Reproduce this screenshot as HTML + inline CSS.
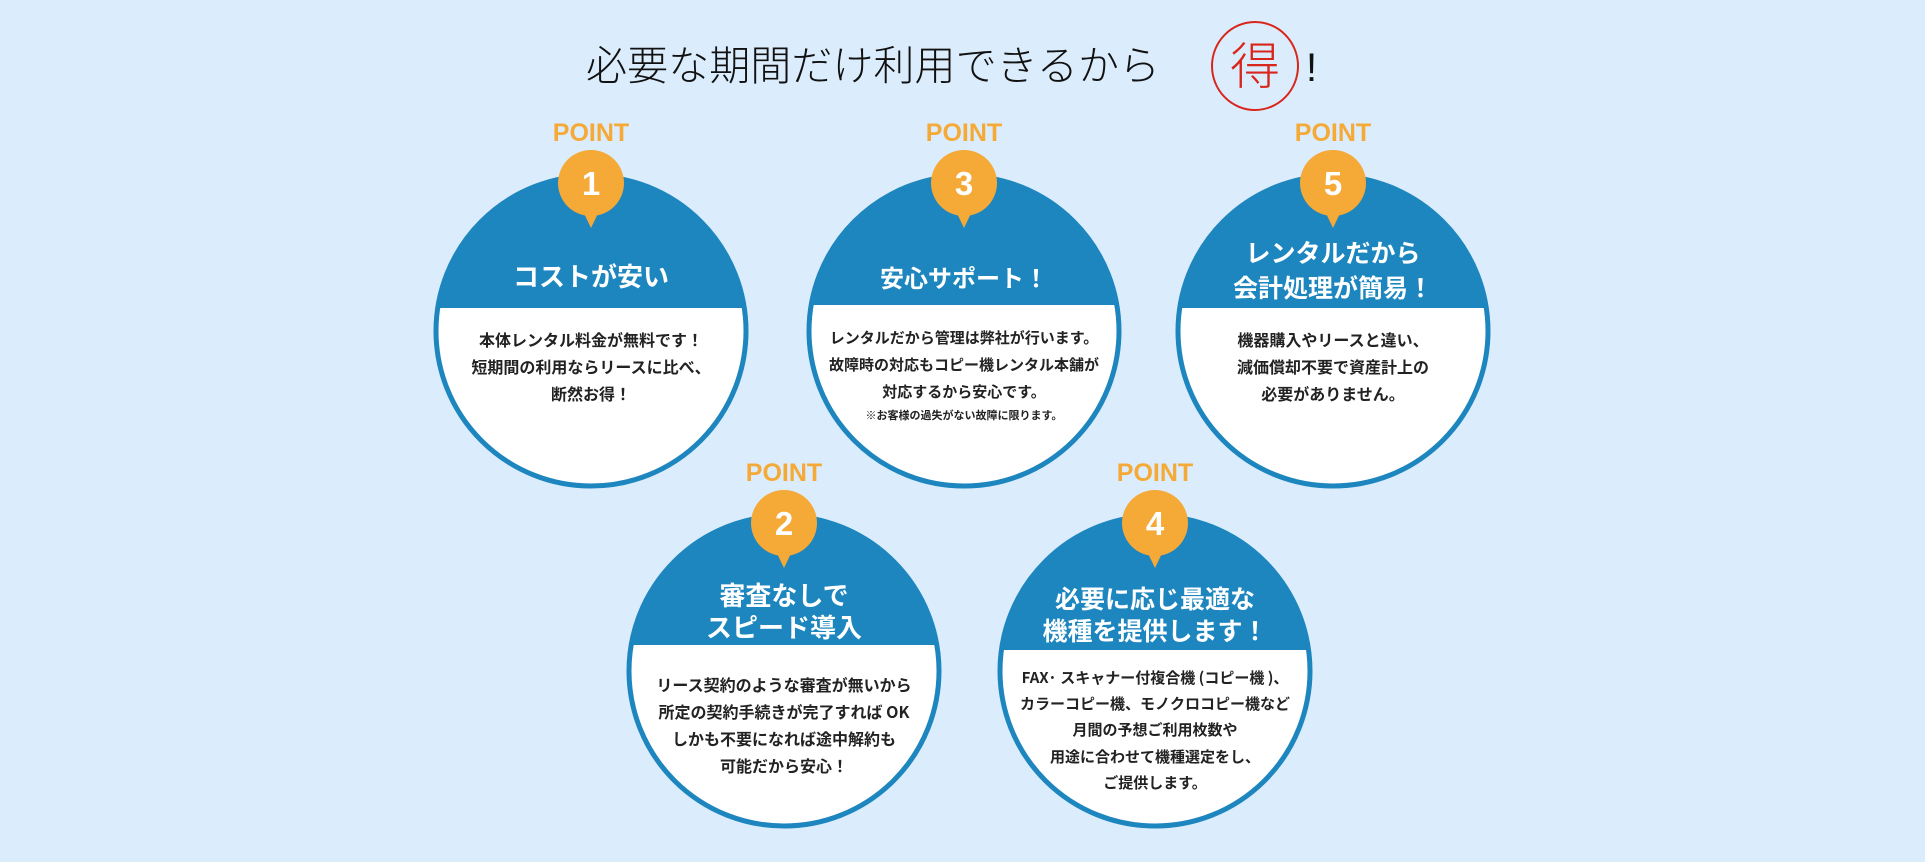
<!DOCTYPE html>
<html><head><meta charset="utf-8"><style>
html,body{margin:0;padding:0;background:#dbedfc;}
svg{display:block}
.t{font-family:"Liberation Sans","Noto Sans CJK JP",sans-serif;}
</style></head><body>
<svg width="1925" height="862" viewBox="0 0 1925 862" xmlns="http://www.w3.org/2000/svg" class="t">
<rect width="1925" height="862" fill="#dbedfc"/>
<text x="586" y="80" font-size="41" fill="#111" font-family="Noto Sans CJK JP, sans-serif" font-weight="300" textLength="574">必要な期間だけ利用できるから</text>
<ellipse cx="1255" cy="66" rx="43" ry="44" fill="none" stroke="#d9261c" stroke-width="2"/>
<text x="1255" y="84" font-size="50" fill="#d9261c" text-anchor="middle" font-family="Noto Sans CJK JP, sans-serif" font-weight="300">得</text>
<text x="1306" y="81" font-size="40" fill="#111" font-family="Liberation Sans, sans-serif">!</text>
<defs>
<clipPath id="c1"><circle cx="591" cy="331" r="155"/></clipPath>
<clipPath id="c3"><circle cx="964" cy="331" r="155"/></clipPath>
<clipPath id="c5"><circle cx="1333" cy="331" r="155"/></clipPath>
<clipPath id="c2"><circle cx="784" cy="671" r="155"/></clipPath>
<clipPath id="c4"><circle cx="1155" cy="671" r="155"/></clipPath>
</defs>
<g font-family="Noto Sans CJK JP, sans-serif">
<!-- circle 1 -->
<circle cx="591" cy="331" r="155" fill="#fff"/>
<rect x="430" y="170" width="330" height="138" fill="#1e86bf" clip-path="url(#c1)"/>
<circle cx="591" cy="331" r="155" fill="none" stroke="#1e86bf" stroke-width="5"/>
<text x="591" y="141" font-size="25" font-weight="bold" fill="#f5a937" text-anchor="middle" font-family="Liberation Sans">POINT</text>
<polygon points="580,205 602,205 591,228" fill="#f5a937"/>
<circle cx="591" cy="183" r="33" fill="#f5a937"/>
<text x="591" y="195" font-size="33" font-weight="bold" fill="#fff" text-anchor="middle" font-family="Liberation Sans">1</text>
<text x="591" y="286" font-size="26" font-weight="bold" fill="#fff" text-anchor="middle">コストが安い</text>
<g font-size="16" font-weight="bold" fill="#222" text-anchor="middle">
<text x="591" y="346">本体レンタル料金が無料です！</text>
<text x="591" y="373">短期間の利用ならリースに比べ、</text>
<text x="591" y="400">断然お得！</text>
</g>
<!-- circle 3 -->
<circle cx="964" cy="331" r="155" fill="#fff"/>
<rect x="800" y="170" width="330" height="135" fill="#1e86bf" clip-path="url(#c3)"/>
<circle cx="964" cy="331" r="155" fill="none" stroke="#1e86bf" stroke-width="5"/>
<text x="964" y="141" font-size="25" font-weight="bold" fill="#f5a937" text-anchor="middle" font-family="Liberation Sans">POINT</text>
<polygon points="953,205 975,205 964,228" fill="#f5a937"/>
<circle cx="964" cy="183" r="33" fill="#f5a937"/>
<text x="964" y="195" font-size="33" font-weight="bold" fill="#fff" text-anchor="middle" font-family="Liberation Sans">3</text>
<text x="964" y="287" font-size="24" font-weight="bold" fill="#fff" text-anchor="middle">安心サポート！</text>
<g font-size="15" font-weight="bold" fill="#222" text-anchor="middle">
<text x="964" y="343">レンタルだから管理は弊社が行います。</text>
<text x="964" y="370">故障時の対応もコピー機レンタル本舗が</text>
<text x="964" y="397">対応するから安心です。</text>
<text x="964" y="419" font-size="11">※お客様の過失がない故障に限ります。</text>
</g>
<!-- circle 5 -->
<circle cx="1333" cy="331" r="155" fill="#fff"/>
<rect x="1170" y="170" width="330" height="138" fill="#1e86bf" clip-path="url(#c5)"/>
<circle cx="1333" cy="331" r="155" fill="none" stroke="#1e86bf" stroke-width="5"/>
<text x="1333" y="141" font-size="25" font-weight="bold" fill="#f5a937" text-anchor="middle" font-family="Liberation Sans">POINT</text>
<polygon points="1322,205 1344,205 1333,228" fill="#f5a937"/>
<circle cx="1333" cy="183" r="33" fill="#f5a937"/>
<text x="1333" y="195" font-size="33" font-weight="bold" fill="#fff" text-anchor="middle" font-family="Liberation Sans">5</text>
<text x="1333" y="262" font-size="25" font-weight="bold" fill="#fff" text-anchor="middle">レンタルだから</text>
<text x="1333" y="297" font-size="25" font-weight="bold" fill="#fff" text-anchor="middle">会計処理が簡易！</text>
<g font-size="16" font-weight="bold" fill="#222" text-anchor="middle">
<text x="1333" y="346">機器購入やリースと違い、</text>
<text x="1333" y="373">減価償却不要で資産計上の</text>
<text x="1333" y="400">必要がありません。</text>
</g>
<!-- circle 2 -->
<circle cx="784" cy="671" r="155" fill="#fff"/>
<rect x="620" y="510" width="330" height="135" fill="#1e86bf" clip-path="url(#c2)"/>
<circle cx="784" cy="671" r="155" fill="none" stroke="#1e86bf" stroke-width="5"/>
<text x="784" y="481" font-size="25" font-weight="bold" fill="#f5a937" text-anchor="middle" font-family="Liberation Sans">POINT</text>
<polygon points="773,545 795,545 784,568" fill="#f5a937"/>
<circle cx="784" cy="523" r="33" fill="#f5a937"/>
<text x="784" y="535" font-size="33" font-weight="bold" fill="#fff" text-anchor="middle" font-family="Liberation Sans">2</text>
<text x="784" y="605" font-size="26" font-weight="bold" fill="#fff" text-anchor="middle">審査なしで</text>
<text x="784" y="637" font-size="26" font-weight="bold" fill="#fff" text-anchor="middle">スピード導入</text>
<g font-size="16" font-weight="bold" fill="#222" text-anchor="middle">
<text x="784" y="691">リース契約のような審査が無いから</text>
<text x="784" y="718">所定の契約手続きが完了すれば OK</text>
<text x="784" y="745">しかも不要になれば途中解約も</text>
<text x="784" y="772">可能だから安心！</text>
</g>
<!-- circle 4 -->
<circle cx="1155" cy="671" r="155" fill="#fff"/>
<rect x="990" y="510" width="330" height="140" fill="#1e86bf" clip-path="url(#c4)"/>
<circle cx="1155" cy="671" r="155" fill="none" stroke="#1e86bf" stroke-width="5"/>
<text x="1155" y="481" font-size="25" font-weight="bold" fill="#f5a937" text-anchor="middle" font-family="Liberation Sans">POINT</text>
<polygon points="1144,545 1166,545 1155,568" fill="#f5a937"/>
<circle cx="1155" cy="523" r="33" fill="#f5a937"/>
<text x="1155" y="535" font-size="33" font-weight="bold" fill="#fff" text-anchor="middle" font-family="Liberation Sans">4</text>
<text x="1155" y="608" font-size="25" font-weight="bold" fill="#fff" text-anchor="middle">必要に応じ最適な</text>
<text x="1155" y="640" font-size="25" font-weight="bold" fill="#fff" text-anchor="middle">機種を提供します！</text>
<g font-size="15" font-weight="bold" fill="#222" text-anchor="middle">
<text x="1155" y="683">FAX· スキャナー付複合機 (コピー機 )、</text>
<text x="1155" y="709">カラーコピー機、モノクロコピー機など</text>
<text x="1155" y="735">月間の予想ご利用枚数や</text>
<text x="1155" y="762">用途に合わせて機種選定をし、</text>
<text x="1155" y="788">ご提供します。</text>
</g>
</g>
</svg>
</body></html>
